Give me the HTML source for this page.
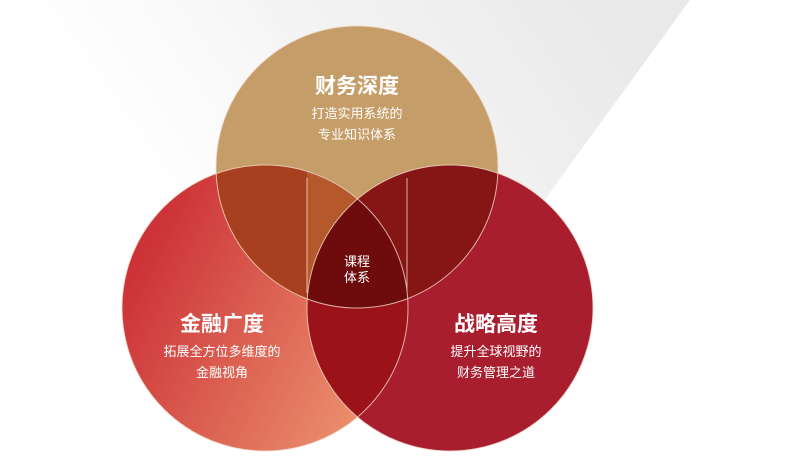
<!DOCTYPE html>
<html><head><meta charset="utf-8"><style>
html,body{margin:0;padding:0;background:#fff;}
svg{display:block;}
text{font-family:"Liberation Sans","Noto Sans CJK SC",sans-serif;fill:#fff;text-anchor:middle;}
</style></head><body>
<svg width="800" height="460" viewBox="0 0 800 460">
<defs>
<linearGradient id="bg" gradientUnits="userSpaceOnUse" x1="150" y1="330" x2="620" y2="0">
<stop offset="0" stop-color="#ffffff" stop-opacity="0"/><stop offset="0.5" stop-color="#f4f4f4"/><stop offset="1" stop-color="#e9e9e9"/>
</linearGradient>
<linearGradient id="lg" x1="0" y1="0" x2="1" y2="0.5">
<stop offset="0" stop-color="#c61f2c"/><stop offset="1" stop-color="#ea8d6c"/>
</linearGradient>
<clipPath id="cT"><circle cx="357" cy="167" r="141"/></clipPath>
<clipPath id="cL"><circle cx="265" cy="308" r="143"/></clipPath>
<clipPath id="cR"><circle cx="450" cy="308" r="143"/></clipPath>
</defs>
<polygon points="0,0 690,0 450,330 0,330" fill="url(#bg)"/>
<circle cx="265" cy="308" r="143" fill="url(#lg)"/>
<circle cx="450" cy="308" r="143" fill="#a91e2f"/>
<circle cx="357" cy="167" r="141" fill="#c59d69"/>
<g clip-path="url(#cT)"><g clip-path="url(#cL)">
<rect x="0" y="0" width="307" height="460" fill="#a8401f"/>
<rect x="307" y="0" width="200" height="460" fill="#b5582b"/>
</g></g>
<g clip-path="url(#cT)"><g clip-path="url(#cR)">
<rect x="0" y="0" width="800" height="460" fill="#861516"/>
</g></g>
<g clip-path="url(#cL)"><g clip-path="url(#cR)">
<rect x="0" y="0" width="800" height="460" fill="#9b1219"/>
</g></g>
<g clip-path="url(#cT)"><g clip-path="url(#cL)"><g clip-path="url(#cR)">
<rect x="0" y="0" width="800" height="460" fill="#6e0b0c"/>
</g></g></g>
<g fill="none" stroke="#f3d9c8" stroke-width="1" opacity="0.8">
<circle cx="357" cy="167" r="141"/>
<circle cx="265" cy="308" r="143"/>
<circle cx="450" cy="308" r="143"/>
<line x1="307" y1="178" x2="307" y2="293"/>
<line x1="407" y1="178" x2="407" y2="293"/>
</g>
<text x="357" y="93" font-size="21" font-weight="bold">财务深度</text>
<text x="357" y="118" font-size="13">打造实用系统的</text>
<text x="357" y="139" font-size="13">专业知识体系</text>
<text x="357" y="266" font-size="13">课程</text>
<text x="357" y="282" font-size="13">体系</text>
<text x="222" y="331" font-size="21" font-weight="bold">金融广度</text>
<text x="222" y="356" font-size="13">拓展全方位多维度的</text>
<text x="222" y="377" font-size="13">金融视角</text>
<text x="496" y="331" font-size="21" font-weight="bold">战略高度</text>
<text x="496" y="356" font-size="13">提升全球视野的</text>
<text x="496" y="377" font-size="13">财务管理之道</text>
</svg>
</body></html>
